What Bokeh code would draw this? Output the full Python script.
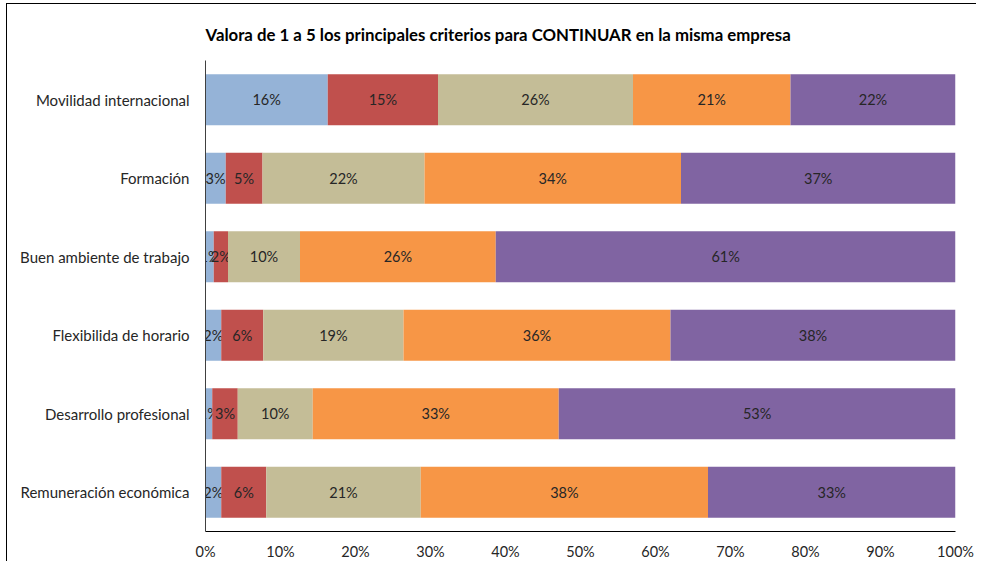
import numpy as np
from bokeh.plotting import figure
from bokeh.models import ColumnDataSource, FactorRange, FixedTicker, PrintfTickFormatter
from bokeh.core.properties import value
from bokeh.embed import file_html
from bokeh.resources import INLINE

title_text = "Valora de 1 a 5 los principales criterios para CONTINUAR en la misma empresa"

# categories, bottom to top
categories = [
    "Remuneración económica",
    "Desarrollo profesional",
    "Flexibilida de horario",
    "Buen ambiente de trabajo",
    "Formación",
    "Movilidad internacional",
]

# percentage of answers per rating (1..5), same order as categories
rating_1 = [2.1, 0.9, 2.1, 1.1, 2.7, 16.3]
rating_2 = [6.0, 3.4, 5.6, 1.9, 4.9, 14.7]
rating_3 = [20.6, 10.0, 18.7, 9.6, 21.6, 26.0]
rating_4 = [38.3, 32.8, 35.6, 26.1, 34.2, 21.0]
rating_5 = [33.0, 52.9, 38.0, 61.3, 36.6, 22.0]

x_ticks = [0, 10, 20, 30, 40, 50, 60, 70, 80, 90, 100]

series = [rating_1, rating_2, rating_3, rating_4, rating_5]
colors = ["#95B3D7", "#C0504D", "#C4BD97", "#F79646", "#8064A2"]

FONT = "Lato"
TXT = "#262626"

X0, Y0 = 7, 4  # canvas offset on the page (border drawn just outside)
W, H = 970, 558
p = figure(
    width=W, height=H,
    y_range=FactorRange(*categories, range_padding=0),
    x_range=(0, 100),
    output_backend="svg", toolbar_location=None,
    min_border_left=205 - X0, min_border_right=W - (955 - X0),
    min_border_top=60 - Y0, min_border_bottom=H - (533 - Y0),
)
p.styles = {"margin-left": f"{X0}px", "margin-top": f"{Y0}px",
            "box-shadow": "-1px -1px 0 0 #000", "overflow": "hidden"}

left = np.zeros(len(categories))
for vals, col in zip(series, colors):
    vals = np.array(vals)
    right = left + vals
    src = ColumnDataSource(dict(
        y=categories, left=left, right=right,
        mid=(left + right) / 2,
        lab=["{:.0f}%".format(v) for v in vals],
    ))
    p.hbar(y="y", left="left", right="right", height=0.65, source=src,
           fill_color=col, line_color=None)
    p.text(x="mid", y="y", text="lab", source=src, text_align="center",
           text_baseline="middle", text_font=value(FONT),
           text_font_size="14.5px", text_color=TXT)
    left = right

p.title.text = title_text
p.title.text_font = FONT
p.title.text_font_size = "16.8px"
p.title.text_font_style = "bold"
p.title.text_color = "#000000"
p.title.align = "left"
p.title.standoff = 31

p.xgrid.visible = False
p.ygrid.visible = False
p.outline_line_color = None
p.background_fill_color = "white"

p.xaxis.ticker = FixedTicker(ticks=x_ticks)
p.xaxis.formatter = PrintfTickFormatter(format="%d%%")
p.xaxis.major_tick_line_color = None
p.xaxis.minor_tick_line_color = None
p.xaxis.major_label_standoff = 5
p.xaxis.axis_line_color = "#000000"
p.xaxis.major_label_text_font = FONT
p.xaxis.major_label_text_font_size = "14.5px"
p.xaxis.major_label_text_color = TXT

p.yaxis.major_tick_line_color = None
p.yaxis.minor_tick_line_color = None
p.yaxis.major_label_standoff = 10
p.yaxis.axis_line_color = "#404040"
p.yaxis.major_label_text_font = FONT
p.yaxis.major_label_text_font_size = "15px"
p.yaxis.major_label_text_color = TXT

open("out.html", "w").write(file_html(p, INLINE))
